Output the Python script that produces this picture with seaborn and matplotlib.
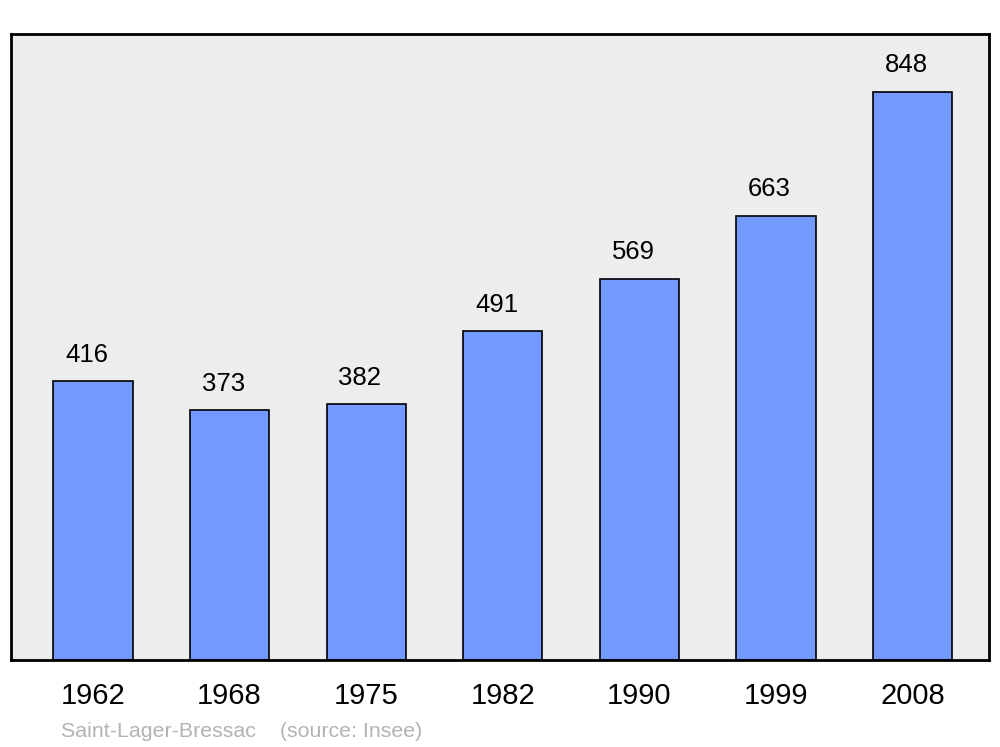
import matplotlib
matplotlib.use("Agg")
import matplotlib.pyplot as plt
import seaborn as sns
import pandas as pd

years = ["1962", "1968", "1975", "1982", "1990", "1999", "2008"]
population = [416, 373, 382, 491, 569, 663, 848]
town = "Saint-Lager-Bressac"
source = "(source: Insee)"

sns.set_style("white")
plt.rcParams["font.family"] = ["Liberation Sans", "DejaVu Sans"]
plt.rcParams["text.color"] = "black"
plt.rcParams["xtick.color"] = "black"

data = pd.DataFrame({"year": years, "pop": population})

fig = plt.figure(figsize=(10, 7.47), dpi=100)
ax = fig.add_axes([0.011, 0.1165, 0.978, 0.838])
ax.set_facecolor("#ededed")

sns.barplot(data=data, x="year", y="pop", color="#7399ff", saturation=1,
            width=0.58, edgecolor="black", linewidth=1.2, ax=ax)

for i, v in enumerate(population):
    ax.annotate(str(v), (i, v), xytext=(-4.5, 19), textcoords="offset points",
                ha="center", va="center", fontsize=18.5, color="black")

ax.set_xlim(-0.6, 6.56)
ax.set_ylim(0, 934)
ax.set_yticks([])
ax.set_xlabel("")
ax.set_ylabel("")
ax.tick_params(axis="x", length=0, pad=16, labelsize=21, labelcolor="black")
for s in ax.spines.values():
    s.set_visible(True)
    s.set_linewidth(2)
    s.set_color("black")

fig.text(0.061, 0.008, town + "    " + source, color="#b3b3b3", fontsize=15.4,
         ha="left", va="bottom")

fig.savefig("out.png", dpi=100)
